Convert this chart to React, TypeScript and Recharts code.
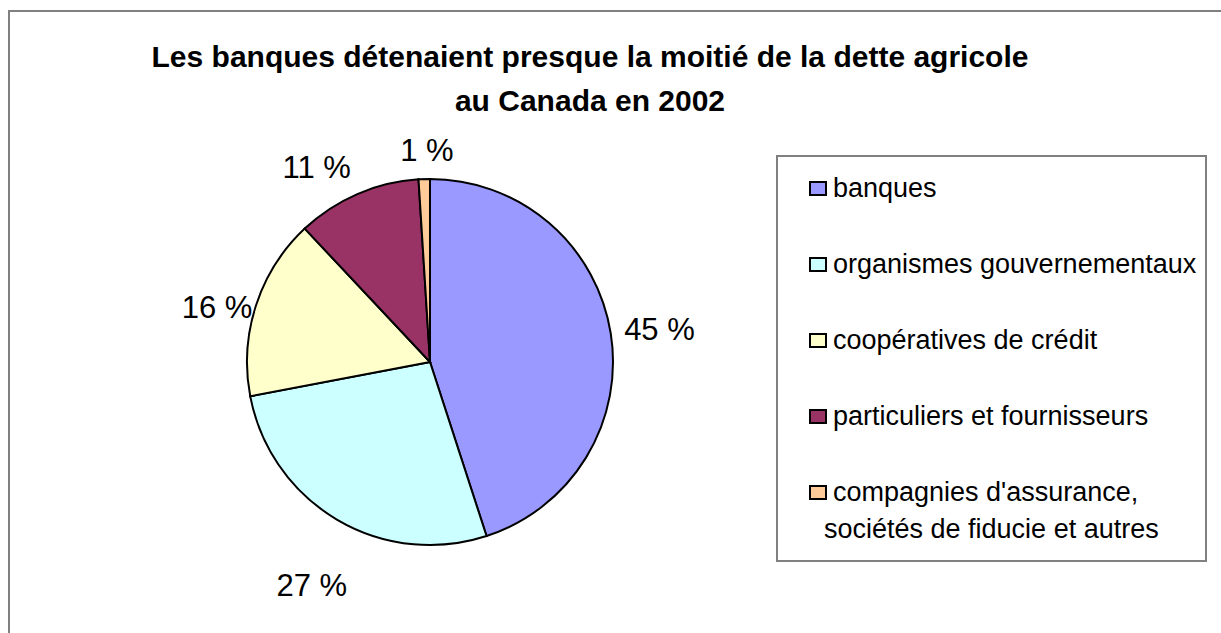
import React from 'react';
import { PieChart, Pie, Cell, Legend } from 'recharts';

const categories = [
  'banques',
  'organismes gouvernementaux',
  'coopératives de crédit',
  'particuliers et fournisseurs',
  "compagnies d'assurance, sociétés de fiducie et autres",
];
const shares = [45, 27, 16, 11, 1];
const colors = ['#9999FF', '#CCFFFF', '#FFFFCC', '#993366', '#FFCC99'];
const titleLines = ['Les banques détenaient presque la moitié de la dette agricole', 'au Canada en 2002'];

const data = categories.map((name, i) => ({ name, value: shares[i] }));

const FONT = '"Liberation Sans", Arial, sans-serif';

// hand placed labels in the original sit a little off the default spot
const labelNudge: Record<number, [number, number]> = {
  1: [0, 44],
  2: [8, 10],
  3: [-21, -4],
  4: [4, -4],
};

const renderLabel = (props: any) => {
  const { cx, cy, midAngle, outerRadius, index } = props;
  const rad = (-midAngle * Math.PI) / 180;
  const dx = Math.cos(rad);
  const dy = Math.sin(rad);
  const text = `${shares[index]} %`;
  const fs = 31;
  const digits = String(shares[index]).length;
  const w = fs * (digits * 0.556 + 0.278 + 0.889);
  const h = 22;
  const gap = 14;
  const [nx, ny] = labelNudge[index] ?? [0, 0];
  const x = cx + (outerRadius + gap) * dx + (dx * w) / 2 + nx;
  const y = cy + (outerRadius + gap) * dy + (dy * h) / 2 + ny;
  return (
    <text x={x} y={y} textAnchor="middle" dominantBaseline="central" fontSize={fs} fontFamily={FONT} fill="#000">
      {text}
    </text>
  );
};

const LegendBox = () => (
  <div
    style={{
      boxSizing: 'border-box',
      width: 431,
      height: 407,
      border: '2px solid #808080',
      background: '#fff',
      paddingTop: 13,
      fontFamily: FONT,
      fontSize: 27,
      color: '#000',
    }}
  >
    {categories.map((name, i) => {
      const parts = name.split(', ');
      return (
        <div key={name} style={{ height: 76, paddingLeft: 31, lineHeight: '37px' }}>
          <div style={{ display: 'flex', alignItems: 'center' }}>
            <span
              style={{
                boxSizing: 'border-box',
                display: 'inline-block',
                width: 18,
                height: 15,
                background: colors[i],
                border: '2px solid #000',
                marginRight: 6,
              }}
            />
            <span>{parts.length > 1 ? parts[0] + ',' : name}</span>
          </div>
          {parts.length > 1 && <div style={{ paddingLeft: 15 }}>{parts[1]}</div>}
        </div>
      );
    })}
  </div>
);

export default function App() {
  return (
    <div style={{ position: 'fixed', left: 0, top: 0, width: 1221, height: 633, overflow: 'hidden', background: '#fff' }}>
      <div
        style={{
          position: 'absolute',
          left: 8,
          top: 10,
          width: 1400,
          height: 800,
          border: '2px solid #808080',
        }}
      />
      <div
        style={{
          position: 'absolute',
          left: 0,
          top: 35,
          width: 1180,
          textAlign: 'center',
          fontFamily: FONT,
          fontWeight: 'bold',
          fontSize: 30,
          lineHeight: '44px',
          color: '#000',
        }}
      >
        {titleLines.map((t) => (
          <div key={t}>{t}</div>
        ))}
      </div>
      <div style={{ position: 'absolute', left: 0, top: 0 }}>
        <PieChart width={1221} height={633} margin={{ top: 0, right: 0, bottom: 0, left: 0 }}>
          <Pie
            data={data}
            dataKey="value"
            nameKey="name"
            cx={430}
            cy={362}
            outerRadius={183}
            startAngle={90}
            endAngle={-270}
            stroke="#000"
            strokeWidth={2}
            label={renderLabel}
            labelLine={false}
            isAnimationActive={false}
          >
            {data.map((d, i) => (
              <Cell key={d.name} fill={colors[i]} />
            ))}
          </Pie>
          <Legend content={() => <LegendBox />} wrapperStyle={{ position: 'absolute', left: 776, top: 155, width: 431, height: 407 }} />
        </PieChart>
      </div>
    </div>
  );
}
